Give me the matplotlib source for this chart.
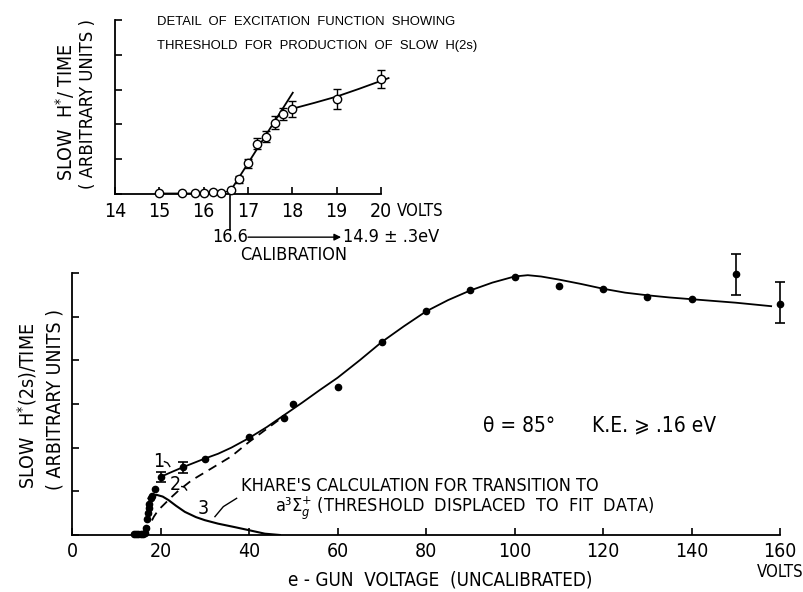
import matplotlib
matplotlib.use("Agg")
import matplotlib.pyplot as plt

plt.rcParams["font.family"] = ["DejaVu Sans"]
plt.rcParams["font.stretch"] = "condensed"

# ---- main excitation function (e-gun voltage, uncalibrated) ----
main_x = [14.0, 14.5, 15.0, 15.5, 16.0, 16.4, 16.7, 16.9, 17.2, 17.3, 17.5, 17.8,
          18.0, 18.7, 30.0, 40.0, 48.0, 50.0, 60.0, 70.0, 80.0, 90.0, 100.0,
          110.0, 120.0, 130.0, 140.0]
main_y = [0.02, 0.02, 0.02, 0.03, 0.03, 0.04, 0.17, 0.36, 0.51, 0.61, 0.71, 0.84,
          0.90, 1.06, 1.75, 2.24, 2.69, 3.00, 3.40, 4.42, 5.12, 5.60, 5.90,
          5.71, 5.63, 5.44, 5.41]

err_x = [20.0, 25.0, 150.0, 160.0]
err_y = [1.33, 1.55, 5.97, 5.30]
err_lo = [0.11, 0.12, 0.47, 0.44]
err_hi = [0.11, 0.12, 0.47, 0.50]

curve1_x = [20, 22, 25, 28, 30, 33, 36, 40, 44, 48, 52, 56, 60, 65, 70, 75, 80, 85,
            90, 95, 100, 103, 106, 110, 115, 120, 125, 130, 135, 140, 145, 150, 155, 158]
curve1_y = [1.33, 1.42, 1.55, 1.67, 1.75, 1.86, 2.00, 2.22, 2.47, 2.75, 3.03, 3.32,
            3.60, 4.00, 4.42, 4.78, 5.12, 5.38, 5.60, 5.78, 5.92, 5.95, 5.92, 5.85,
            5.75, 5.64, 5.55, 5.49, 5.44, 5.40, 5.36, 5.32, 5.27, 5.24]

curve2_x = [16.5, 17.5, 18.5, 19.5, 21.0, 22.5, 24.0, 27.0, 31.6, 36.0, 40.0, 44.0, 48.0]
curve2_y = [0.02, 0.22, 0.42, 0.57, 0.72, 0.87, 1.01, 1.25, 1.53, 1.80, 2.13, 2.43, 2.73]

curve3_x = [17.3, 18.0, 19.1, 20.5, 21.8, 23.5, 25.5, 28.0, 30.0, 33.0, 36.8, 40.0, 43.6, 47.0]
curve3_y = [0.84, 0.89, 0.92, 0.88, 0.80, 0.67, 0.53, 0.41, 0.34, 0.26, 0.18, 0.11, 0.03, 0.0]

main_xticks = [0, 20, 40, 60, 80, 100, 120, 140, 160]
main_yticks = [0, 1, 2, 3, 4, 5, 6]

# ---- threshold detail ----
det_x = [15.0, 15.5, 15.8, 16.0, 16.2, 16.4, 16.61]
det_y = [0.02, 0.02, 0.02, 0.03, 0.05, 0.02, 0.11]
det_err_x = [16.8, 17.0, 17.21, 17.4, 17.6, 17.78, 18.0, 19.0, 20.0]
det_err_y = [0.43, 0.88, 1.44, 1.65, 2.05, 2.30, 2.44, 2.73, 3.30]
det_err = [0.10, 0.13, 0.16, 0.17, 0.18, 0.16, 0.22, 0.29, 0.25]

fit1_x = [16.56, 18.01]
fit1_y = [0.0, 2.91]
fit2_x = [18.06, 18.5, 19.0, 19.5, 20.17]
fit2_y = [2.47, 2.62, 2.80, 3.02, 3.33]

det_xticks = [14, 15, 16, 17, 18, 19, 20]
det_yticks = [0, 1, 2, 3, 4, 5]

fig = plt.figure(figsize=(8.04, 5.92), dpi=100)
W, H = 804.0, 592.0


def style(ax):
    for s in ("top", "right"):
        ax.spines[s].set_visible(False)
    for s in ("left", "bottom"):
        ax.spines[s].set_linewidth(1.3)
    ax.tick_params(direction="in", length=5, width=1.2, labelsize=14, pad=5)
    ax.tick_params(axis="y", labelleft=False)


# main axes
ax = fig.add_axes([72 / W, (H - 535) / H, (780 - 72) / W, (535 - 273) / H])
style(ax)
ax.set_xlim(0, 160)
ax.set_ylim(0, 6)
ax.set_xticks(main_xticks)
ax.set_xticklabels([str(v) for v in main_xticks])
ax.set_yticks(main_yticks)

ax.plot(curve1_x, curve1_y, color="black", lw=1.3)
ax.plot(curve2_x, curve2_y, color="black", lw=1.3, ls=(0, (5, 3.5)))
ax.plot(curve3_x, curve3_y, color="black", lw=1.5)
ax.plot(main_x, main_y, "o", color="black", ms=4.5, clip_on=False)
ax.errorbar(err_x, err_y, yerr=[err_lo, err_hi], fmt="o", color="black", ms=4.5,
            capsize=3.5, elinewidth=1.2, capthick=1.2, clip_on=False)

ax.text(19.7, 1.68, "1", fontsize=14, ha="center", va="center")
ax.plot([20.9, 21.6, 22.1], [1.68, 1.65, 1.57], color="black", lw=1)
ax.text(23.3, 1.15, "2", fontsize=14, ha="center", va="center")
ax.plot([24.8, 25.4, 25.9], [1.11, 1.10, 1.03], color="black", lw=1)
ax.text(29.7, 0.61, "3", fontsize=14, ha="center", va="center")
ax.plot([32.3, 34.2, 37.2], [0.42, 0.65, 0.84], color="black", lw=1)

ax.text(38.1, 1.12, "KHARE'S CALCULATION FOR TRANSITION TO", fontsize=13,
        ha="left", va="center")
ax.text(45.9, 0.62, "a³Σ$_g^{+}$ (THRESHOLD  DISPLACED  TO  FIT  DATA)",
        fontsize=13, ha="left", va="center")
ax.text(92.9, 2.5, "θ = 85°", fontsize=15, ha="left", va="center")
ax.text(117.5, 2.5, "K.E. ⩾ .16 eV", fontsize=15, ha="left", va="center")
ax.text(160.1, -0.84, "VOLTS", fontsize=12, ha="center", va="center",
        clip_on=False)
ax.set_xlabel("e - GUN  VOLTAGE  (UNCALIBRATED)", fontsize=13.5)
ax.xaxis.set_label_coords((440 - 72) / 708, -(580 - 535) / 262, transform=ax.transAxes)
ax.xaxis.label.set_va("center")

fig.text(27 / W, 1 - 406 / H, "SLOW  H$^{*}$(2s)/TIME", rotation=90,
         fontsize=14, ha="center", va="center")
fig.text(55 / W, 1 - 400 / H, "( ARBITRARY UNITS )", rotation=90,
         fontsize=14, ha="center", va="center")

# inset: threshold detail
ins = fig.add_axes([115 / W, (H - 194) / H, (381 - 115) / W, (194 - 20) / H])
style(ins)
ins.set_xlim(14, 20)
ins.set_ylim(0, 5)
ins.set_xticks(det_xticks)
ins.set_xticklabels([str(v) for v in det_xticks])
ins.set_yticks(det_yticks)
ins.tick_params(axis="x", pad=6)

ins.plot(det_x, det_y, "-o", color="black", ms=6, mfc="white", lw=1.0,
         clip_on=False, zorder=3)
ins.errorbar(det_err_x, det_err_y, yerr=det_err, fmt="o", color="black", ms=6,
             mfc="white", capsize=3, elinewidth=1.0, capthick=1.0,
             clip_on=False, zorder=3)
ins.plot(fit1_x, fit1_y, color="black", lw=1.3, zorder=2)
ins.plot(fit2_x, fit2_y, color="black", lw=1.3, zorder=2, clip_on=False)

ins.plot([16.6, 16.6], [0, -1.03], color="black", lw=1.2, clip_on=False)
ins.text(16.6, -1.24, "16.6", fontsize=13, ha="center", va="center")
ins.annotate("", xy=(19.1, -1.24), xytext=(17.0, -1.24),
             arrowprops=dict(arrowstyle="-|>", color="black", lw=1.0,
                             mutation_scale=10, shrinkA=0, shrinkB=0),
             annotation_clip=False)
ins.text(19.14, -1.24, "14.9 ± .3eV", fontsize=13, ha="left", va="center")
ins.text(18.03, -1.75, "CALIBRATION", fontsize=13, ha="center", va="center")
ins.text(20.36, -0.48, "VOLTS", fontsize=12, ha="left", va="center")

title_font = dict(family=["Liberation Sans", "DejaVu Sans"], fontstretch="normal")
fig.text(157 / W, 1 - 22 / H, "DETAIL  OF  EXCITATION  FUNCTION  SHOWING",
         fontsize=9.4, ha="left", va="center", **title_font)
fig.text(157 / W, 1 - 46 / H, "THRESHOLD  FOR  PRODUCTION  OF  SLOW  H(2s)",
         fontsize=9.4, ha="left", va="center", **title_font)

fig.text(65 / W, 1 - 112 / H, "SLOW  H$^{*}$/ TIME", rotation=90,
         fontsize=14, ha="center", va="center")
fig.text(88 / W, 1 - 104 / H, "( ARBITRARY UNITS )", rotation=90,
         fontsize=13.2, ha="center", va="center")

fig.savefig("out.png", dpi=100)
